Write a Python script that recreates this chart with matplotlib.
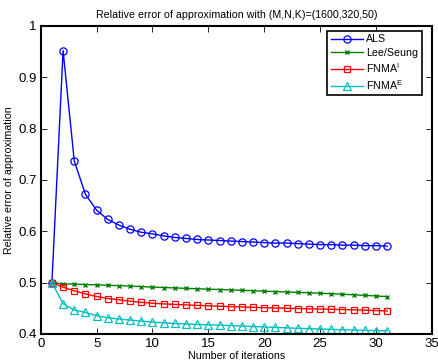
import numpy as np
import matplotlib
matplotlib.use('Agg')
import matplotlib.pyplot as plt

plt.rcParams['font.family'] = ['Liberation Sans', 'DejaVu Sans']
plt.rcParams['mathtext.fontset'] = 'custom'
plt.rcParams['mathtext.rm'] = 'Liberation Sans'

iterations = list(range(1, 32))

als = [0.500, 0.952, 0.737, 0.672, 0.641, 0.623, 0.612, 0.604, 0.598, 0.595,
       0.591, 0.588, 0.586, 0.584, 0.583, 0.582, 0.581, 0.580, 0.579, 0.578,
       0.577, 0.577, 0.576, 0.575, 0.574, 0.574, 0.573, 0.573, 0.572, 0.572,
       0.571]

lee_seung = [0.500, 0.4975, 0.497, 0.4963, 0.4955, 0.4948, 0.494, 0.4932, 0.4922, 0.4912,
             0.4904, 0.4896, 0.4888, 0.488, 0.4872, 0.4865, 0.4857, 0.485, 0.4842, 0.4833,
             0.4825, 0.4817, 0.481, 0.4802, 0.4793, 0.4783, 0.4773, 0.4763, 0.4752, 0.474,
             0.4727]

fnma_i = [0.500, 0.491, 0.484, 0.478, 0.473, 0.469, 0.4665, 0.4638, 0.4615, 0.4598,
          0.4585, 0.4574, 0.4565, 0.4556, 0.4548, 0.454, 0.4532, 0.4525, 0.4518, 0.4512,
          0.4505, 0.450, 0.4495, 0.449, 0.4485, 0.448, 0.4475, 0.447, 0.4462, 0.4455,
          0.4447]

fnma_e = [0.500, 0.459, 0.4465, 0.4418, 0.4355, 0.4315, 0.429, 0.427, 0.425, 0.423,
          0.4217, 0.4204, 0.4194, 0.4185, 0.4178, 0.4172, 0.4162, 0.4152, 0.4143, 0.4135,
          0.4127, 0.4118, 0.411, 0.4102, 0.4095, 0.4088, 0.4082, 0.4076, 0.407, 0.4065,
          0.406]

x_ticks = [0, 5, 10, 15, 20, 25, 30, 35]
y_ticks = [0.4, 0.5, 0.6, 0.7, 0.8, 0.9, 1.0]
y_tick_labels = ['0.4', '0.5', '0.6', '0.7', '0.8', '0.9', '1']

fig = plt.figure(figsize=(4.38, 3.61), dpi=100)
ax = fig.add_axes([0.093, 0.075, 0.893, 0.853])

lw = 1.0
ax.plot(iterations, als, color='blue', marker='o', markersize=5.2, mfc='none',
        mew=0.9, linewidth=lw, label='ALS')
ax.plot(iterations, lee_seung, color=(0, 0.5, 0), marker='x', markersize=3.5,
        mew=1.0, linewidth=lw, label='Lee/Seung')
ax.plot(iterations, fnma_i, color='red', marker='s', markersize=4.5, mfc='none',
        mew=0.9, linewidth=lw, label=r'FNMA$^\mathrm{I}$')
ax.plot(iterations, fnma_e, color=(0, 0.75, 0.75), marker='^', markersize=5.5, mfc='none',
        mew=0.9, linewidth=lw, label=r'FNMA$^\mathrm{E}$')

ax.set_xlim(0, 35)
ax.set_ylim(0.4, 1.0)
ax.set_xticks(x_ticks)
ax.set_yticks(y_ticks)
ax.set_yticklabels(y_tick_labels)
ax.tick_params(direction='in', top=True, right=True, labelsize=9.5, length=4, width=0.6, pad=3)
for s in ax.spines.values():
    s.set_linewidth(1.5)

ax.set_title('Relative error of approximation with (M,N,K)=(1600,320,50)', fontsize=7.7, pad=6)
ax.set_xlabel('Number of iterations', fontsize=7.7, labelpad=1)
ax.set_ylabel('Relative error of approximation', fontsize=7.7, labelpad=3)

leg = ax.legend(loc='upper right', bbox_to_anchor=(0.975, 0.985), fontsize=7.7, fancybox=False,
                framealpha=1, edgecolor='black', borderpad=0.35, handlelength=3.0,
                handletextpad=0.3, labelspacing=0.3, borderaxespad=0)
leg.get_frame().set_linewidth(1.2)

fig.savefig('out.png', dpi=100)
